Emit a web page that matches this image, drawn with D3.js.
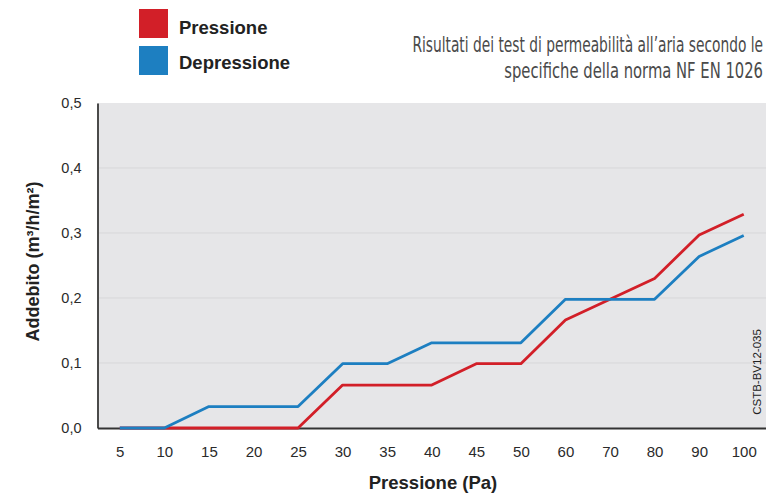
<!DOCTYPE html>
<html>
<head>
<meta charset="utf-8">
<script src="https://cdn.jsdelivr.net/npm/d3@7"></script>
<style>
  body { margin: 0; background: #fff; }
  svg { display: block; font-family: "Liberation Sans", Arial, sans-serif; }
</style>
</head>
<body>
<div id="plot"></div>
<script>
// Data
const pressures = ["5", "10", "15", "20", "25", "30", "35", "40", "45", "50", "60", "70", "80", "90", "100"];
const pressione = [0, 0, 0, 0, 0, 0.066, 0.066, 0.066, 0.099, 0.099, 0.166, 0.198, 0.23, 0.297, 0.329];
const depressione = [0, 0, 0.033, 0.033, 0.033, 0.099, 0.099, 0.131, 0.131, 0.131, 0.198, 0.198, 0.198, 0.264, 0.296];
const yTicks = [0, 0.1, 0.2, 0.3, 0.4, 0.5];

const width = 766, height = 499;
const margin = { top: 103, bottom: 70, left: 97.5, right: 0 };

const red = '#d21f28', blue = '#1d7fc1';

const svg = d3.select('#plot')
  .append('svg')
  .attr('width', width)
  .attr('height', height);

// Scales
const x = d3.scalePoint()
  .domain(pressures)
  .range([margin.left, width - margin.right])
  .padding(0.5);

const y = d3.scaleLinear()
  .domain([0, 0.5])
  .range([height - margin.bottom - 1, margin.top]);

// Plot background
svg.append('rect')
  .attr('x', margin.left)
  .attr('y', y(0.5))
  .attr('width', width - margin.right - margin.left)
  .attr('height', y(0) - y(0.5))
  .attr('fill', '#e6e6e8');

// Gridlines
svg.append('g')
  .selectAll('line')
  .data(yTicks.filter(d => d > 0 && d < 0.5))
  .join('line')
  .attr('x1', margin.left)
  .attr('x2', width - margin.right)
  .attr('y1', d => y(d))
  .attr('y2', d => y(d))
  .attr('stroke', '#d7d7d9')
  .attr('stroke-width', 1);

// Y axis
const yAxis = svg.append('g')
  .attr('transform', `translate(${margin.left},0)`)
  .call(d3.axisLeft(y).tickValues(yTicks).tickSize(0).tickPadding(16)
    .tickFormat(d => d3.format('.1f')(d).replace('.', ',')));
yAxis.select('.domain').attr('stroke', '#4a4a4a').attr('stroke-width', 2);
yAxis.selectAll('text')
  .attr('fill', '#2a2a2a')
  .style('font-size', '14.5px')
  .style('font-family', '"Liberation Sans", Arial, sans-serif');

// X axis
const xAxis = svg.append('g')
  .attr('transform', `translate(0,${y(0)})`)
  .call(d3.axisBottom(x).tickSize(0).tickPadding(18));
xAxis.select('.domain').attr('stroke', '#333').attr('stroke-width', 2);
xAxis.selectAll('text')
  .attr('fill', '#2a2a2a')
  .style('font-size', '15px')
  .style('font-family', '"Liberation Sans", Arial, sans-serif');

// Lines
const line = d3.line()
  .x((d, i) => x(pressures[i]))
  .y(d => y(d));

svg.append('path')
  .datum(pressione)
  .attr('fill', 'none')
  .attr('stroke', red)
  .attr('stroke-width', 2.8)
  .attr('stroke-linejoin', 'round')
  .attr('d', line);

svg.append('path')
  .datum(depressione)
  .attr('fill', 'none')
  .attr('stroke', blue)
  .attr('stroke-width', 2.8)
  .attr('stroke-linejoin', 'round')
  .attr('d', line);

// Axis titles
svg.append('text')
  .attr('transform', `translate(39,${(margin.top + y(0)) / 2 - 4}) rotate(-90)`)
  .attr('text-anchor', 'middle')
  .attr('fill', '#222')
  .style('font-size', '18px')
  .style('font-weight', 'bold')
  .text('Addebito (m³/h/m²)');

svg.append('text')
  .attr('x', 433)
  .attr('y', 489)
  .attr('text-anchor', 'middle')
  .attr('fill', '#222')
  .style('font-size', '18.5px')
  .style('font-weight', 'bold')
  .text('Pressione (Pa)');

// Reference code
svg.append('text')
  .attr('transform', 'translate(761,372) rotate(-90)')
  .attr('text-anchor', 'middle')
  .attr('fill', '#222')
  .style('font-size', '11.5px')
  .text('CSTB-BV12-035');

// Legend
const legendItems = [
  { name: 'Pressione', color: red },
  { name: 'Depressione', color: blue }
];
const legend = svg.append('g').attr('transform', 'translate(139,9)');
legend.selectAll('rect')
  .data(legendItems)
  .join('rect')
  .attr('x', 0)
  .attr('y', (d, i) => i * 37)
  .attr('width', 29)
  .attr('height', 29)
  .attr('fill', d => d.color);
legend.selectAll('text')
  .data(legendItems)
  .join('text')
  .attr('x', 40)
  .attr('y', (d, i) => i * 35 + 25)
  .attr('fill', '#222')
  .style('font-size', '18.5px')
  .style('font-weight', 'bold')
  .text(d => d.name);

// Subtitle: condensed light face, squeezed horizontally to the reference width
const subtitle = [
  { text: 'Risultati dei test di permeabilità all’aria secondo le', y: 52, w: 351 },
  { text: 'specifiche della norma NF EN 1026', y: 78, w: 259 }
];
svg.append('g')
  .selectAll('text')
  .data(subtitle)
  .join('text')
  .attr('x', 0)
  .attr('y', 0)
  .attr('text-anchor', 'end')
  .attr('fill', '#4a4a4a')
  .style('font-family', '"DejaVu Sans Condensed", "DejaVu Sans", sans-serif')
  .style('font-weight', '200')
  .style('font-size', '22px')
  .text(d => d.text)
  .attr('transform', function (d) {
    const k = d.w / this.getComputedTextLength();
    return `translate(763,${d.y}) scale(${k},1)`;
  });
</script>
</body>
</html>
